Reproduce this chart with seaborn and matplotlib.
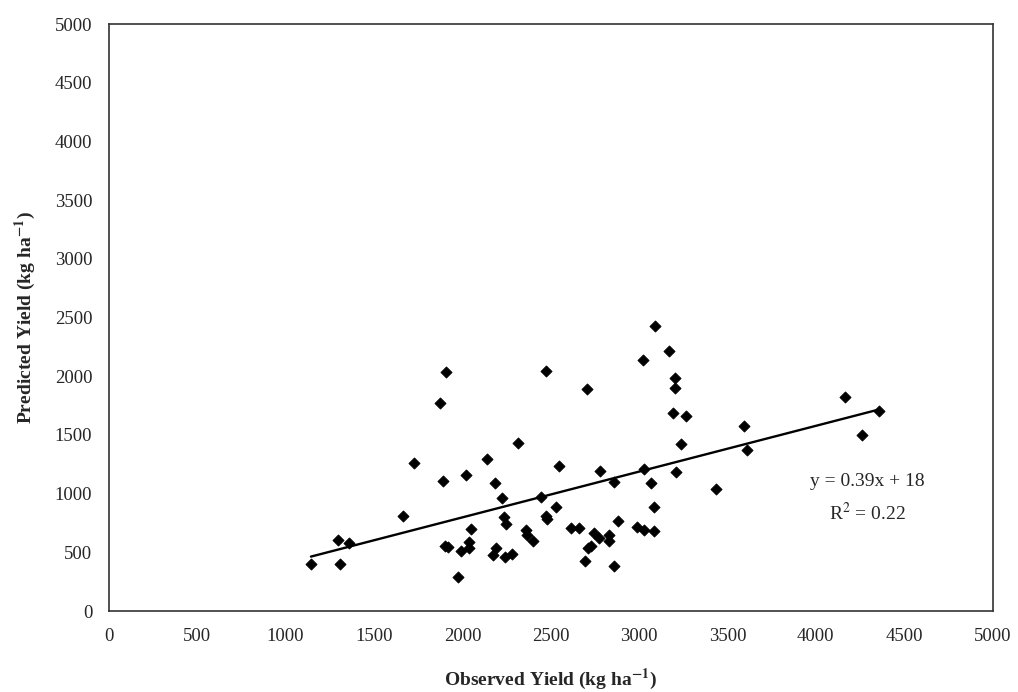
import numpy as np
import pandas as pd
import matplotlib.pyplot as plt
import seaborn as sns

# observed vs predicted yield (kg/ha)
observed = [1143, 1307, 1294, 1359, 1665, 1727, 1872, 1910, 1891, 1900,
            1919, 1974, 1995, 2018, 2036, 2038, 2046, 2140, 2183, 2189,
            2174, 2227, 2234, 2245, 2244, 2278, 2315, 2359, 2363, 2400,
            2447, 2476, 2472, 2479, 2528, 2547, 2617, 2660, 2692, 2708,
            2711, 2730, 2745, 2773, 2779, 2830, 2830, 2856, 2856, 2881,
            2990, 3026, 3026, 3022, 3066, 3083, 3083, 3088, 3169, 3201,
            3201, 3192, 3211, 3235, 3264, 3433, 3593, 3610, 4167, 4261,
            4357]
predicted = [400, 400, 605, 577, 812, 1258, 1769, 2038, 1107, 556,
             543, 292, 514, 1158, 590, 534, 701, 1295, 1088, 534,
             477, 960, 803, 739, 457, 486, 1434, 690, 647, 599,
             974, 2044, 809, 781, 888, 1238, 710, 704, 428, 1888,
             534, 556, 667, 619, 1193, 647, 599, 1101, 386, 767,
             713, 690, 1210, 2138, 1093, 888, 681, 2428, 2217, 1982,
             1902, 1684, 1184, 1423, 1664, 1037, 1578, 1371, 1820, 1499,
             1704]

# trend line as printed on the chart
slope = 0.39
intercept = 18
r_squared = 0.22

df = pd.DataFrame({'observed': observed, 'predicted': predicted})

sns.set_style('white')
plt.rcParams['font.family'] = ['Liberation Serif', 'DejaVu Serif']
plt.rcParams['mathtext.fontset'] = 'stix'

fig = plt.figure(figsize=(10.18, 6.92), dpi=100)
ax = fig.add_axes([0.107, 0.117, 0.868, 0.848])

sns.scatterplot(data=df, x='observed', y='predicted', ax=ax, marker='D',
                s=32, color='black', edgecolor='black', linewidth=0.6, zorder=3)

x_fit = np.array([min(observed), max(observed)])
sns.lineplot(x=x_fit, y=slope * x_fit + intercept, ax=ax, color='black',
             linewidth=1.7, zorder=2)

ax.text(4290, 1100, f'y = {slope}x + {intercept}', ha='center', va='center', fontsize=14)
ax.text(4290, 835, f'R$^2$ = {r_squared}', ha='center', va='center', fontsize=14)

ax.set_xlim(0, 5000)
ax.set_ylim(0, 5000)
ax.set_xticks(np.arange(0, 5001, 500))
ax.set_yticks(np.arange(0, 5001, 500))
ax.tick_params(length=0, labelsize=13.5, pad=12)

ax.set_xlabel(r'Observed Yield (kg ha$^{\mathbf{-1}}$)', fontsize=14, fontweight='bold', labelpad=16)
ax.set_ylabel(r'Predicted Yield (kg ha$^{\mathbf{-1}}$)', fontsize=14, fontweight='bold', labelpad=12)

for sp in ax.spines.values():
    sp.set_color('#333333')
    sp.set_linewidth(1.2)

plt.savefig('out.png', dpi=100)
